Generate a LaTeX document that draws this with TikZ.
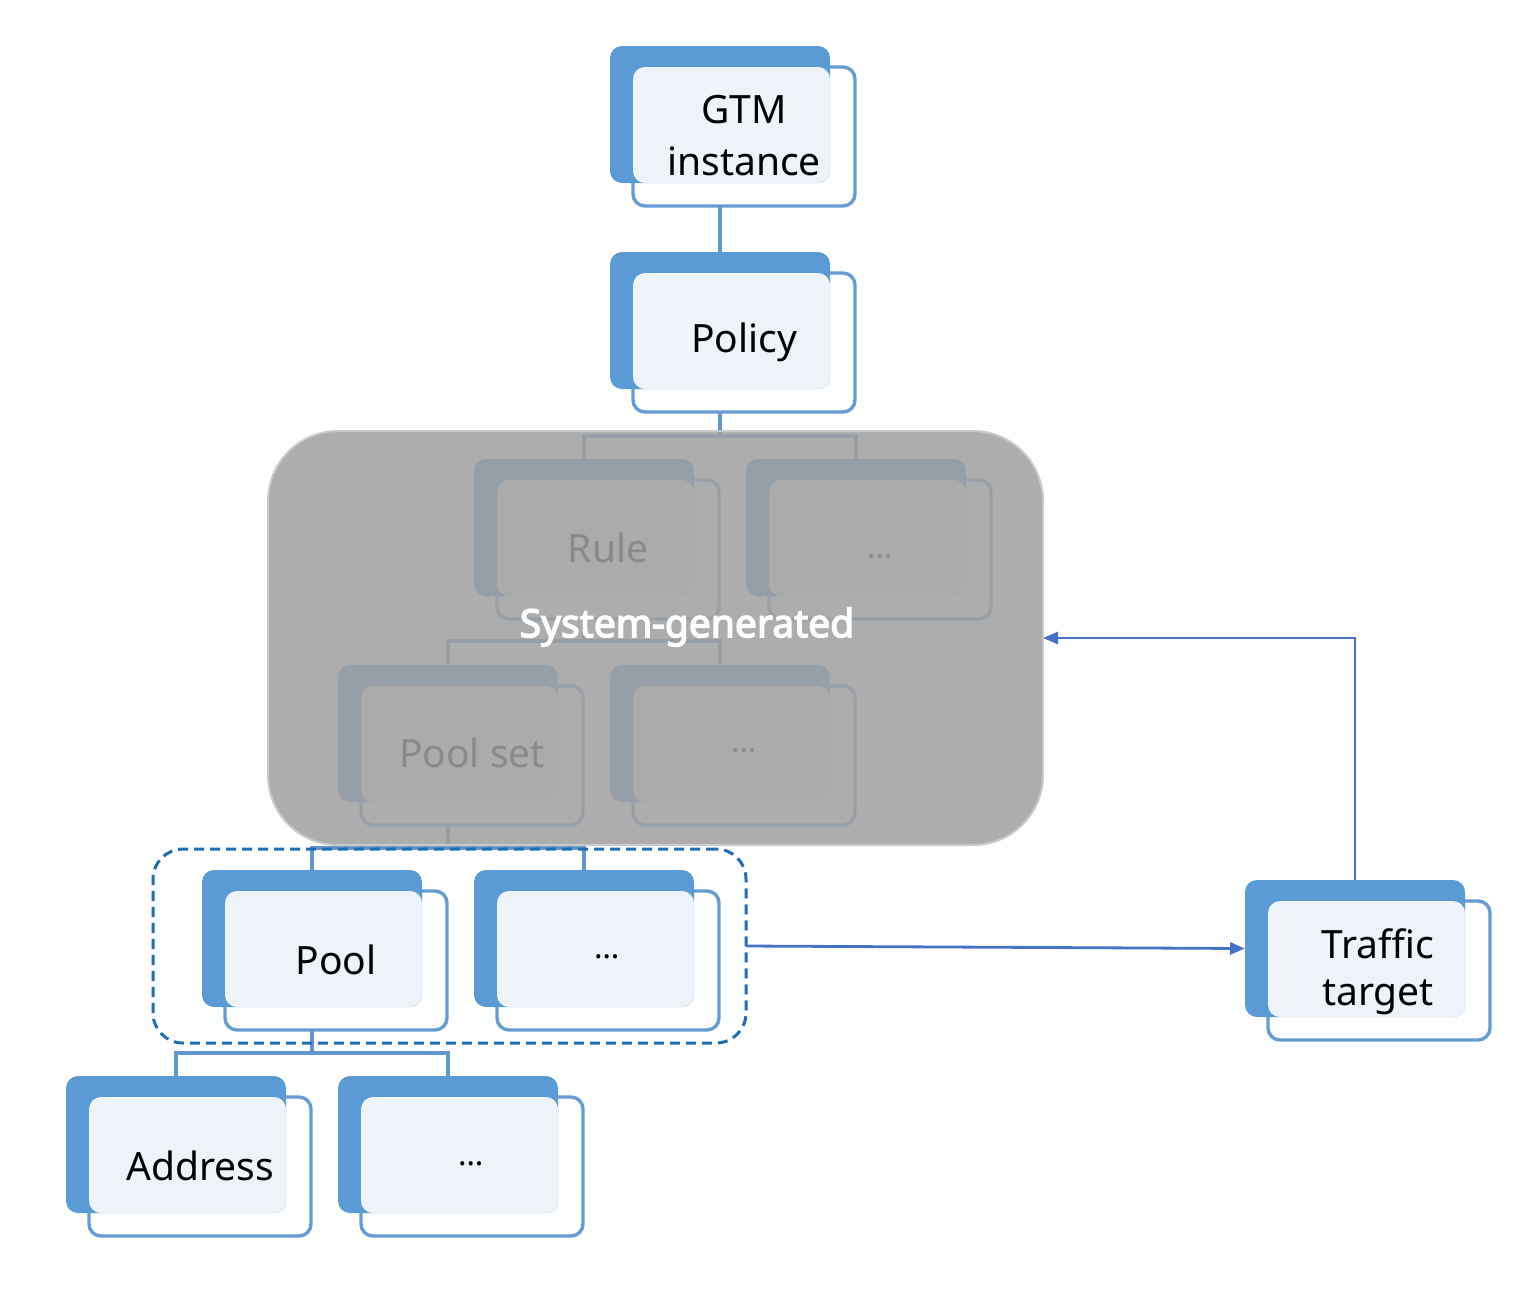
\documentclass[tikz,border=0pt]{standalone}
\usepackage{fontspec}
\setmainfont{Noto Sans}
\newfontfamily\sysfont{Noto Sans}[FakeBold=3.5]
\usetikzlibrary{calc,arrows.meta}
\definecolor{bblue}{HTML}{5B9BD5}
\definecolor{fborder}{HTML}{659DD3}
\definecolor{olap}{HTML}{EEF3FA}
\definecolor{conn}{HTML}{6496CC}
\definecolor{arrc}{HTML}{4472C4}
\definecolor{grayfill}{HTML}{A0A0A0}
\definecolor{grayline}{HTML}{CACACA}
\definecolor{dashc}{HTML}{1F6EB3}
\pgfdeclarelayer{bg}
\pgfdeclarelayer{ov}
\pgfdeclarelayer{tp}
\pgfsetlayers{bg,main,ov,tp}
\tikzset{
  backbox/.style={fill=bblue, rounded corners=12pt, minimum width=220pt, minimum height=137pt, inner sep=0pt, outer sep=0pt},
  frontbox/.style={draw=fborder, line width=3.4pt, fill=white, rounded corners=12pt, minimum width=222pt, minimum height=139pt, inner sep=0pt, outer sep=0pt},
  overlapfill/.style={fill=olap, rounded corners=12pt},
  lab/.style={font=\fontsize{39}{52}\selectfont, align=center, inner sep=0pt},
  dotlab/.style={font=\fontsize{32}{40}\selectfont, inner sep=0pt},
  connline/.style={draw=conn, line width=3.2pt},
  arr/.style={draw=arrc, line width=2.8pt, -{Triangle[length=15pt,width=12pt]}},
  sysbox/.style={fill=grayfill, fill opacity=0.86, draw=grayline, line width=2pt, rounded corners=70pt, minimum width=775pt, minimum height=414pt, inner sep=0pt, outer sep=0pt},
  grpbox/.style={draw=dashc, line width=3pt, dash pattern=on 10pt off 6pt, rounded corners=30pt, minimum width=593pt, minimum height=194pt, inner sep=0pt, outer sep=0pt},
}
\newcommand\stackbox[2]{%
  \node[frontbox, anchor=north west] (#1-f) at ($(#2)+(23,21)$) {};
  \node[backbox, anchor=north west] (#1-b) at (#2) {};
  \fill[overlapfill] (#1-f.north west) rectangle (#1-b.south east);
}
\begin{document}
\begin{tikzpicture}[x=1pt,y=-1pt]
\useasboundingbox (0,0) rectangle (1534,1294);
% boxes
\stackbox{gtm}{610,46}
\stackbox{pol}{610,252}
\stackbox{rule}{474,459}
\stackbox{rdots}{746,459}
\stackbox{pset}{338,665}
\stackbox{pdots}{610,665}
\stackbox{pool}{202,870}
\stackbox{odots}{474,870}
\stackbox{addr}{66,1076}
\stackbox{adots}{338,1076}
\stackbox{tt}{1245,880}
% labels
\node[lab] (gtm-t) at (744,136) {GTM\\instance};
\node[lab] (pol-t) at (744,342) {Policy};
\node[lab] (rule-t) at (608,548) {Rule};
\node[dotlab] (rdots-t) at (880,557) {…};
\node[lab] (pset-t) at (472,753) {Pool set};
\node[dotlab] (pdots-t) at (744,751) {…};
\node[lab] (pool-t) at (336,960) {Pool};
\node[dotlab] (odots-t) at (607,957) {…};
\node[lab] (addr-t) at (200,1166) {Address};
\node[dotlab] (adots-t) at (471,1164) {…};
\node[lab, font=\fontsize{39}{47}\selectfont] (tt-t) at (1378,972) {Traffic\\target};
% connectors
\begin{pgfonlayer}{bg}
\draw[connline] (gtm-b.south) -- (pol-b.north);
\draw[connline] (pol-b.south) -- (pol-b.south |- 0,436);
\draw[connline] (rule-b.north) -- (rule-b.north |- 0,436) -- (rdots-b.north |- 0,436) -- (rdots-b.north);
\draw[connline] (rule-b.south) -- (rule-b.south |- 0,641);
\draw[connline] (pset-b.north) -- (pset-b.north |- 0,641) -- (pdots-b.north |- 0,641) -- (pdots-b.north);
\draw[connline] (pset-b.south) -- (pset-b.south |- 0,848);
\draw[connline] (pool-b.north) -- (pool-b.north |- 0,848) -- (odots-b.north |- 0,848) -- (odots-b.north);
\draw[connline] (pool-b.south) -- (pool-b.south |- 0,1053);
\draw[connline] (addr-b.north) -- (addr-b.north |- 0,1053) -- (adots-b.north |- 0,1053) -- (adots-b.north);
\end{pgfonlayer}
% system-generated overlay
\begin{pgfonlayer}{ov}
\node[sysbox, anchor=north west] (sys) at (268,431) {};
\end{pgfonlayer}
\begin{pgfonlayer}{tp}
\node[font=\sysfont\fontsize{39}{46}\selectfont, text=white, inner sep=0pt] (sys-t) at (687,627) {System-generated};
\node[grpbox, anchor=north west] (grp) at (153,849) {};
\draw[arr] (grp.east) -- (tt-b.west);
\draw[arr] (tt-b.north) |- (sys.east);
\end{pgfonlayer}
\end{tikzpicture}
\end{document}
